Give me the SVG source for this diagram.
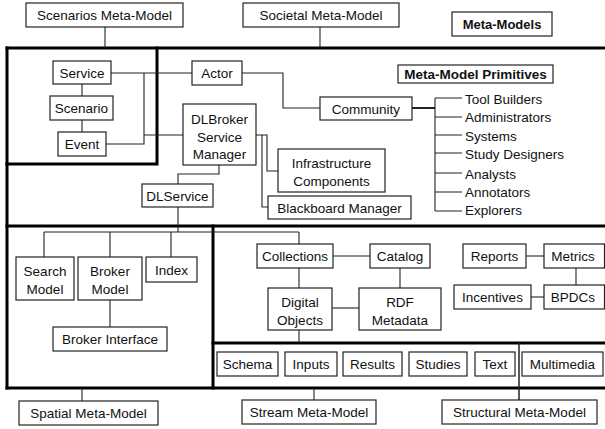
<svg xmlns="http://www.w3.org/2000/svg" width="605" height="429" viewBox="0 0 605 429">
<style>
  .box { fill: #fff; stroke: #222; stroke-width: 1.2; }
  .t { font-family: "Liberation Sans", Arial, sans-serif; font-size: 13.5px; fill: #111; text-anchor: middle; }
  .tl { font-family: "Liberation Sans", Arial, sans-serif; font-size: 13.5px; fill: #111; }
  .b { font-weight: bold; }
  .c { fill: none; stroke: #222; stroke-width: 1.1; }
  .frame { fill: none; stroke: #000; stroke-width: 3; stroke-linecap: square; }
</style>
<rect width="605" height="429" fill="#fff"/>

<g id="frames">
  <path class="frame" d="M7 48 H606"/>
  <path class="frame" d="M7 48 V388"/>
  <path class="frame" d="M157 48 V164 H7"/>
  <path class="frame" d="M7 226 H606"/>
  <path class="frame" d="M213 226 V388"/>
  <path class="frame" d="M213 343 H606"/>
  <path class="frame" d="M7 388 H606"/>
</g>

<g id="connectors">
  <path class="c" d="M105 27 V48"/>
  <path class="c" d="M320 27 V48"/>
  <path class="c" d="M82 84 V96"/>
  <path class="c" d="M82 120 V132"/>
  <path class="c" d="M111 73 H192"/>
  <path class="c" d="M144 73 V144 H106"/>
  <path class="c" d="M144 135 H183"/>
  <path class="c" d="M242 73 H283 V108 H320"/>
  <path class="c" d="M412 108 H435" style="stroke-width:2"/>
  <path class="c" d="M435 98 V211"/>
  <path class="c" d="M435 98 H462 M435 117 H462 M435 135 H462 M435 153 H462 M435 173 H462 M435 192 H462 M435 211 H462"/>
  <path class="c" d="M256 135 H267 V171 H278"/>
  <path class="c" d="M262 135 V207 H268"/>
  <path class="c" d="M219 165 V174 H178 V184"/>
  <path class="c" d="M178 207 V232"/>
  <path class="c" d="M44 232 H299"/>
  <path class="c" d="M44 232 V257 M110 232 V257 M171 232 V257 M299 232 V244"/>
  <path class="c" d="M110 300 V327"/>
  <path class="c" d="M82 388 V401"/>
  <path class="c" d="M333 256 H370"/>
  <path class="c" d="M299 268 V288"/>
  <path class="c" d="M400 268 V288"/>
  <path class="c" d="M332 308 H359"/>
  <path class="c" d="M299 330 V343"/>
  <path class="c" d="M526 256 H544"/>
  <path class="c" d="M576 268 V285"/>
  <path class="c" d="M531 297 H544"/>
  <path class="c" d="M314 388 V400"/>
  <path class="c" d="M519 343 V400" style="stroke-width:1.5"/>
</g>

<g id="scenariosMM"><rect class="box" x="26" y="3" width="157" height="24"/><text class="t" x="104.5" y="20">Scenarios Meta-Model</text></g>
<g id="societalMM"><rect class="box" x="243" y="3" width="156" height="24"/><text class="t" x="321" y="20">Societal Meta-Model</text></g>
<g id="metaModels"><rect class="box" x="452" y="12" width="100" height="24"/><text class="t b" x="502" y="29" style="font-size:13px">Meta-Models</text></g>
<g id="service"><rect class="box" x="53" y="61" width="58" height="23"/><text class="t" x="82" y="77.5">Service</text></g>
<g id="scenario"><rect class="box" x="50" y="96" width="63" height="24"/><text class="t" x="81.5" y="113">Scenario</text></g>
<g id="event"><rect class="box" x="58" y="132" width="48" height="24"/><text class="t" x="82" y="149">Event</text></g>
<g id="actor"><rect class="box" x="192" y="61" width="50" height="24"/><text class="t" x="217" y="78">Actor</text></g>
<g id="mmPrimitives"><rect class="box" x="398" y="65" width="155" height="18"/><text class="t b" x="475.5" y="79">Meta-Model Primitives</text></g>
<g id="community"><rect class="box" x="320" y="97" width="92" height="23"/><text class="t" x="366" y="113.5">Community</text></g>
<g id="communityMembers">
  <text class="tl" x="465" y="104">Tool Builders</text>
  <text class="tl" x="465" y="122">Administrators</text>
  <text class="tl" x="465" y="141">Systems</text>
  <text class="tl" x="465" y="159">Study Designers</text>
  <text class="tl" x="465" y="179">Analysts</text>
  <text class="tl" x="465" y="197">Annotators</text>
  <text class="tl" x="465" y="215">Explorers</text>
</g>
<g id="dlbroker"><rect class="box" x="183" y="104" width="73" height="61"/><text class="t" x="219.5" y="123.5">DLBroker</text><text class="t" x="219.5" y="141.5">Service</text><text class="t" x="219.5" y="159">Manager</text></g>
<g id="infrastructure"><rect class="box" x="278" y="149" width="107" height="43"/><text class="t" x="331.5" y="168">Infrastructure</text><text class="t" x="331.5" y="186">Components</text></g>
<g id="blackboard"><rect class="box" x="268" y="196" width="143" height="23"/><text class="t" x="339.5" y="212.5">Blackboard Manager</text></g>
<g id="dlservice"><rect class="box" x="142" y="184" width="71" height="23"/><text class="t" x="177.5" y="200.5">DLService</text></g>
<g id="searchModel"><rect class="box" x="16" y="257" width="58" height="43"/><text class="t" x="45" y="276">Search</text><text class="t" x="45" y="294">Model</text></g>
<g id="brokerModel"><rect class="box" x="78" y="257" width="64" height="43"/><text class="t" x="110" y="276">Broker</text><text class="t" x="110" y="294">Model</text></g>
<g id="index"><rect class="box" x="146" y="257" width="51" height="25"/><text class="t" x="171.5" y="274.5">Index</text></g>
<g id="brokerInterface"><rect class="box" x="53" y="327" width="114" height="24"/><text class="t" x="110" y="344">Broker Interface</text></g>
<g id="spatialMM"><rect class="box" x="19" y="401" width="139" height="24"/><text class="t" x="88.5" y="418">Spatial Meta-Model</text></g>
<g id="collections"><rect class="box" x="257" y="244" width="76" height="24"/><text class="t" x="295" y="261">Collections</text></g>
<g id="catalog"><rect class="box" x="370" y="244" width="60" height="24"/><text class="t" x="400" y="261">Catalog</text></g>
<g id="digitalObjects"><rect class="box" x="268" y="288" width="64" height="42"/><text class="t" x="300" y="307">Digital</text><text class="t" x="300" y="325">Objects</text></g>
<g id="rdfMetadata"><rect class="box" x="359" y="288" width="82" height="42"/><text class="t" x="400" y="307">RDF</text><text class="t" x="400" y="325">Metadata</text></g>
<g id="reports"><rect class="box" x="463" y="244" width="63" height="24"/><text class="t" x="494.5" y="261">Reports</text></g>
<g id="metrics"><rect class="box" x="544" y="244" width="60.5" height="24"/><text class="t" x="573" y="261">Metrics</text></g>
<g id="incentives"><rect class="box" x="454" y="285" width="77" height="24"/><text class="t" x="492.5" y="302">Incentives</text></g>
<g id="bpdcs"><rect class="box" x="544" y="285" width="60.5" height="24"/><text class="t" x="573" y="302">BPDCs</text></g>
<g id="schema"><rect class="box" x="217" y="352" width="61" height="24"/><text class="t" x="247.5" y="369">Schema</text></g>
<g id="inputs"><rect class="box" x="285" y="352" width="52" height="24"/><text class="t" x="311" y="369">Inputs</text></g>
<g id="results"><rect class="box" x="343" y="352" width="59" height="24"/><text class="t" x="372.5" y="369">Results</text></g>
<g id="studies"><rect class="box" x="409" y="352" width="58" height="24"/><text class="t" x="438" y="369">Studies</text></g>
<g id="text"><rect class="box" x="475" y="352" width="40" height="24"/><text class="t" x="495" y="369">Text</text></g>
<g id="multimedia"><rect class="box" x="522" y="352" width="81" height="24"/><text class="t" x="562.5" y="369">Multimedia</text></g>
<g id="streamMM"><rect class="box" x="242" y="400" width="134" height="24"/><text class="t" x="309" y="417">Stream Meta-Model</text></g>
<g id="structuralMM"><rect class="box" x="442" y="400" width="155" height="24"/><text class="t" x="519.5" y="417">Structural Meta-Model</text></g>
</svg>
